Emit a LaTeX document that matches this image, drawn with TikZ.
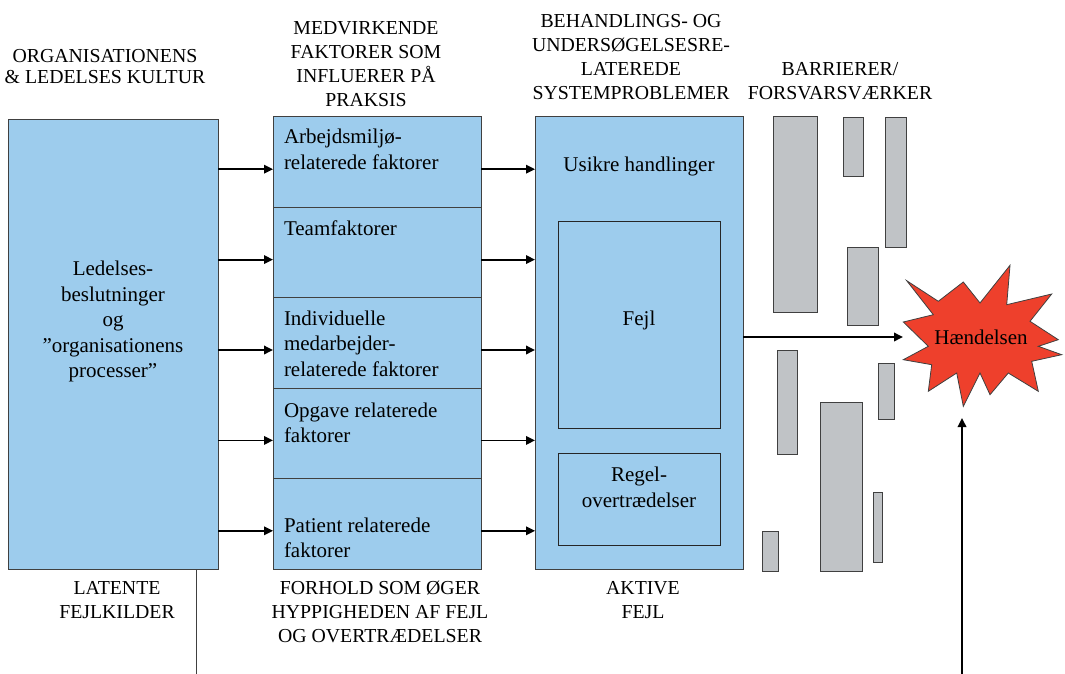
\documentclass[tikz,border=0pt]{standalone}
\usepackage{fontspec}
\setmainfont{Liberation Serif}
\usetikzlibrary{arrows.meta,positioning}
\definecolor{boxblue}{RGB}{157,204,237}
\definecolor{barriergray}{RGB}{192,195,198}
\definecolor{eventred}{RGB}{238,64,44}
\definecolor{edgegray}{RGB}{64,64,64}

\begin{document}
\begin{tikzpicture}[x=1pt, y=-1pt,
  every node/.style = {inner sep=0pt, outer sep=0pt},
  heading/.style = {align=center, font=\fontsize{19.8}{24}\selectfont},
  boxtext/.style = {font=\fontsize{21}{25.5}\selectfont},
  panel/.style = {draw=edgegray, fill=boxblue, line width=1pt},
  factor/.style = {panel, minimum width=208pt, minimum height=90.4pt},
  inner/.style = {draw=black!85, fill=boxblue, line width=0.8pt},
  barrier/.style = {draw=edgegray, fill=barriergray, line width=1pt},
  arr/.style = {line width=1.8pt, -{Triangle[length=9pt,width=8.5pt]}}]
  \useasboundingbox (0,0) rectangle (1065,674);

  \node[heading, font=\fontsize{19.8}{21}\selectfont] (culthead) at (105,66.5) {ORGANISATIONENS\\\& LEDELSES KULTUR};
  \node[heading] (factorhead) at (366,64.5) {MEDVIRKENDE\\FAKTORER SOM\\INFLUERER PÅ\\PRAKSIS};
  \node[heading] (systemhead) at (631,57) {BEHANDLINGS- OG\\UNDERSØGELSESRE-\\LATEREDE\\SYSTEMPROBLEMER};
  \node[heading] (barrierhead) at (840,81) {BARRIERER/\\FORSVARSVÆRKER};

  \node[panel, minimum width=210pt, minimum height=449pt] (mgmt) at (113,344.5) {};
  \node[boxtext, align=center, anchor=north] (mgmttext) at (113,261)
    {Ledelses-\\beslutninger\\og\\”organisationens\\processer”};

  \node[factor] (f1) at (377,162.2) {};
  \node[factor, below=0pt of f1] (f2) {};
  \node[factor, below=0pt of f2] (f3) {};
  \node[factor, below=0pt of f3] (f4) {};
  \node[factor, below=0pt of f4] (f5) {};
  \node[boxtext, align=left, anchor=north west] (t1) at ([xshift=11pt, yshift=-12pt]f1.north west) {Arbejdsmiljø-\\relaterede faktorer};
  \node[boxtext, align=left, anchor=north west] (t2) at ([xshift=11pt, yshift=-13.5pt]f2.north west) {Teamfaktorer};
  \node[boxtext, align=left, anchor=north west] (t3) at ([xshift=11pt, yshift=-13pt]f3.north west) {Individuelle\\medarbejder-\\relaterede faktorer};
  \node[boxtext, align=left, anchor=north west] (t4) at ([xshift=11pt, yshift=-14.5pt]f4.north west) {Opgave relaterede\\faktorer};
  \node[boxtext, align=left, anchor=north west] (t5) at ([xshift=11pt, yshift=-39pt]f5.north west) {Patient relaterede\\faktorer};

  \node[panel, minimum width=208pt, minimum height=452pt] (active) at (639,343) {};
  \node[boxtext, anchor=base] (unsafe) at (639,171) {Usikre handlinger};
  \node[inner, minimum width=162pt, minimum height=207pt] (errbox) at (639,324.5) {};
  \node[boxtext, anchor=base] (errtext) at (639,325) {Fejl};
  \node[inner, minimum width=162pt, minimum height=92pt] (rulebox) at (639,499) {};
  \node[boxtext, align=center, anchor=north] (ruletext) at (639,467) {Regel-\\overtrædelser};

  \node[heading] (latent) at (117,600) {LATENTE\\FEJLKILDER};
  \node[heading] (conditions) at (380,612) {FORHOLD SOM ØGER\\HYPPIGHEDEN AF FEJL\\OG OVERTRÆDELSER};
  \node[heading] (activeerr) at (643,600) {AKTIVE\\FEJL};

  \foreach \xa/\ya/\xb/\yb in {773/117/817/312, 843/118/863/176, 885/118/906/247,
    847/247/878/325, 777/350/797/454, 820/402/862/571, 878/363/894/419,
    873/492/882/562, 762/531/778/571}
    \draw[barrier] (\xa,\ya) rectangle (\xb,\yb);

  \draw[draw=edgegray, fill=eventred, line width=0.8pt, line join=miter]
    (906.7,280.7) -- (938.3,301.3) -- (963.3,282) -- (980,303) -- (1010,265.3)
    -- (1006.7,304.7) -- (1051.7,294) -- (1030,321.3) -- (1058.3,339.7)
    -- (1038.3,346.3) -- (1061.7,354.7) -- (1031.7,361.3) -- (1038.3,391.3)
    -- (1008.3,373) -- (990,394.7) -- (980,373) -- (963.3,406.3) -- (956.7,373)
    -- (928.3,391.3) -- (931.7,364.7) -- (903.3,359.7) -- (928.3,346.3)
    -- (903.3,322) -- (933.3,314.7) -- cycle;
  \node[boxtext, minimum width=156pt, minimum height=142pt] (event) at (981,337) {Hændelsen};

  \foreach \i in {1,...,5} {
    \path ([yshift=-7pt]f\i.west) coordinate (in\i) ([yshift=-7pt]f\i.east) coordinate (out\i);
    \draw[arr] (mgmt.east |- in\i) -- (in\i);
    \draw[arr] (out\i) -- (active.west |- out\i);
  }
  \draw[arr] (active.east |- event) -- (event.west);
  \coordinate (trigger) at (962,674);
  \draw[arr, shorten >=10pt] (trigger) -- (trigger |- event.south);
  \coordinate (latentfoot) at (196,674);
  \draw[edgegray, line width=0.8pt] (latentfoot |- mgmt.south) -- (latentfoot);
\end{tikzpicture}
\end{document}
